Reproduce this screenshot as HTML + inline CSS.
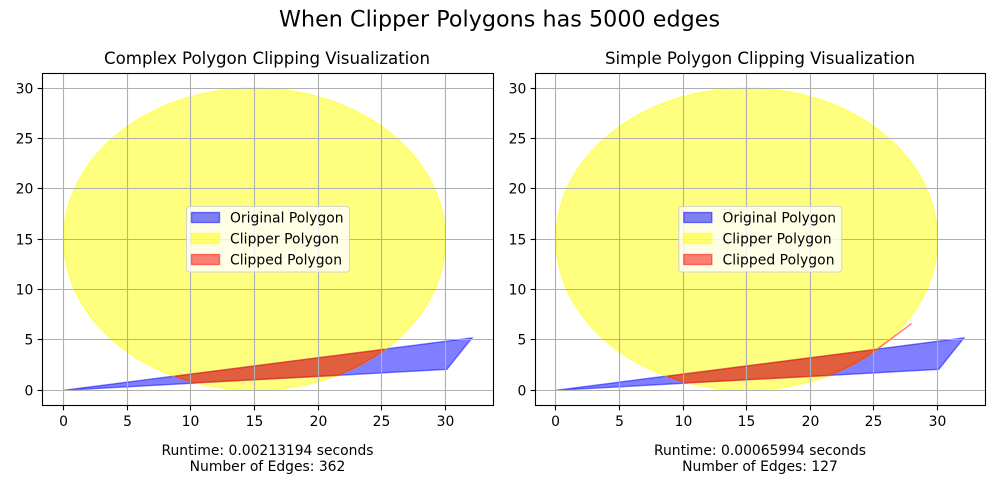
<!DOCTYPE html>
<html>
<head>
<meta charset="utf-8">
<title>When Clipper Polygons has 5000 edges</title>
<style>
html,body{margin:0;padding:0;background:#fff;}
svg{display:block;}
text{font-family:"DejaVu Sans","Liberation Sans",sans-serif;fill:#000;}
</style>
</head>
<body>
<svg id="figure" width="1000" height="500" viewBox="0 0 1000 500" xmlns="http://www.w3.org/2000/svg">
<text x="499.5" y="26.5" font-size="22.2" text-anchor="middle" textLength="441">When Clipper Polygons has 5000 edges</text>

<g>
<g id="left-marks"></g>
<g id="left-axes"></g>
<text x="267" y="64" font-size="16.67" text-anchor="middle" textLength="326">Complex Polygon Clipping Visualization</text>
<g transform="translate(186.5,206.5)">
<rect x="0" y="0" width="163" height="65.5" rx="3" fill="#fff" fill-opacity="0.8" stroke="#ccc" stroke-opacity="0.8" stroke-width="1.1"/>
<rect x="5" y="6" width="28" height="10" fill="#00f" fill-opacity="0.5" stroke="#00f" stroke-opacity="0.5" stroke-width="1.39"/>
<text x="43.5" y="16" font-size="13.89" textLength="113.5">Original Polygon</text>
<rect x="5" y="27" width="28" height="10" fill="#ff0" fill-opacity="0.5" stroke="#ff0" stroke-opacity="0.5" stroke-width="1.39"/>
<text x="43.5" y="37" font-size="13.89" textLength="109">Clipper Polygon</text>
<rect x="5" y="48" width="28" height="10" fill="#f00" fill-opacity="0.5" stroke="#f00" stroke-opacity="0.5" stroke-width="1.39"/>
<text x="43.5" y="58" font-size="13.89" textLength="112">Clipped Polygon</text>
</g>
<text x="267.5" y="455" font-size="13.89" text-anchor="middle">Runtime: 0.00213194 seconds</text>
<text x="267.5" y="471" font-size="13.89" text-anchor="middle">Number of Edges: 362</text>
</g>

<g>
<g id="right-marks"></g>
<g id="right-axes"></g>
<text x="760" y="64" font-size="16.67" text-anchor="middle" textLength="310">Simple Polygon Clipping Visualization</text>
<g transform="translate(678.8,206.5)">
<rect x="0" y="0" width="163" height="65.5" rx="3" fill="#fff" fill-opacity="0.8" stroke="#ccc" stroke-opacity="0.8" stroke-width="1.1"/>
<rect x="5" y="6" width="28" height="10" fill="#00f" fill-opacity="0.5" stroke="#00f" stroke-opacity="0.5" stroke-width="1.39"/>
<text x="43.7" y="16" font-size="13.89" textLength="113.5">Original Polygon</text>
<rect x="5" y="27" width="28" height="10" fill="#ff0" fill-opacity="0.5" stroke="#ff0" stroke-opacity="0.5" stroke-width="1.39"/>
<text x="43.7" y="37" font-size="13.89" textLength="109">Clipper Polygon</text>
<rect x="5" y="48" width="28" height="10" fill="#f00" fill-opacity="0.5" stroke="#f00" stroke-opacity="0.5" stroke-width="1.39"/>
<text x="43.7" y="58" font-size="13.89" textLength="112">Clipped Polygon</text>
</g>
<text x="760" y="455" font-size="13.89" text-anchor="middle">Runtime: 0.00065994 seconds</text>
<text x="760" y="471" font-size="13.89" text-anchor="middle">Number of Edges: 127</text>
</g>
</svg>

<script>
const xTicks = [0, 5, 10, 15, 20, 25, 30];
const yTicks = [0, 5, 10, 15, 20, 25, 30];
const xLimits = [-1.657, 33.75];
const yLimits = [-1.5, 31.5];

const originalX = [0, 30.1, 32.08];
const originalY = [0, 2.08, 5.2];

const clipperCenterX = [15];
const clipperCenterY = [15];
const clipperRadius = [15];

const complexClippedX = [8.7, 25.25, 24.5, 23.5, 22.5, 21.5, 10.3, 9.5];
const complexClippedY = [1.39, 4.07, 3.39, 2.64, 2.01, 1.48, 0.74, 1.05];

const simpleClippedX = [8.7, 25.25, 27.96, 25.1, 24.5, 23.5, 22.5, 21.5, 10.3, 9.5];
const simpleClippedY = [1.39, 4.07, 6.62, 3.95, 3.39, 2.64, 2.01, 1.48, 0.74, 1.05];

const NS = 'http://www.w3.org/2000/svg';

function make(tag, attrs, parent) {
  const el = document.createElementNS(NS, tag);
  for (const k in attrs) el.setAttribute(k, attrs[k]);
  parent.appendChild(el);
  return el;
}

function xScale(v, box) {
  return box.left + (v - xLimits[0]) / (xLimits[1] - xLimits[0]) * (box.right - box.left);
}

function yScale(v, box) {
  return box.bottom - (v - yLimits[0]) / (yLimits[1] - yLimits[0]) * (box.bottom - box.top);
}

function pointList(xs, ys, box) {
  return xs.map(function (x, i) {
    return xScale(x, box).toFixed(2) + ',' + yScale(ys[i], box).toFixed(2);
  }).join(' ');
}

function snap(v) {
  return Math.floor(v) + 0.5;
}

function drawPanel(marks, axes, box, clippedX, clippedY) {
  const blue = make('polygon', {points: pointList(originalX, originalY, box), fill: '#00f', 'fill-opacity': 0.5, stroke: '#00f', 'stroke-opacity': 0.5, 'stroke-width': 1.39, 'stroke-linejoin': 'miter'}, marks);
  
  

  const cx = xScale(clipperCenterX[0], box);
  const cy = yScale(clipperCenterY[0], box);
  const rx = xScale(clipperCenterX[0] + clipperRadius[0], box) - cx;
  const ry = cy - yScale(clipperCenterY[0] + clipperRadius[0], box);
  const yellow = make('ellipse', {cx: cx, cy: cy, rx: rx, ry: ry, fill: '#ff0', 'fill-opacity': 0.5, stroke: '#ff0', 'stroke-opacity': 0.5, 'stroke-width': 1.39}, marks);
  
  

  const red = make('polygon', {points: pointList(clippedX, clippedY, box), fill: '#f00', 'fill-opacity': 0.5, stroke: '#f00', 'stroke-opacity': 0.5, 'stroke-width': 1.39}, marks);
  
  

  xTicks.forEach(function (t) {
    const px = snap(xScale(t, box));
    const grid = make('line', {x1: px, x2: px, y1: box.frameTop, y2: box.frameBottom, stroke: '#b0b0b0', 'stroke-width': 1.11}, axes);
    
    
    const tick = make('line', {x1: px, x2: px, y1: box.frameBottom, y2: box.frameBottom + 4.86, stroke: '#000', 'stroke-width': 1.11}, axes);
    
    
    const label = make('text', {x: px, y: box.frameBottom + 20.5, 'font-size': 13.89, 'text-anchor': 'middle'}, axes);
    
    
    label.textContent = String(t);
  });

  yTicks.forEach(function (t) {
    const py = snap(yScale(t, box));
    const grid = make('line', {x1: box.frameLeft, x2: box.frameRight, y1: py, y2: py, stroke: '#b0b0b0', 'stroke-width': 1.11}, axes);
    
    
    const tick = make('line', {x1: box.frameLeft - 4.86, x2: box.frameLeft, y1: py, y2: py, stroke: '#000', 'stroke-width': 1.11}, axes);
    
    
    const label = make('text', {x: box.frameLeft - 9.2, y: py + 5, 'font-size': 13.89, 'text-anchor': 'end'}, axes);
    
    
    label.textContent = String(t);
  });

  const frame = make('rect', {x: box.frameLeft, y: box.frameTop, width: box.frameRight - box.frameLeft, height: box.frameBottom - box.frameTop, fill: 'none', stroke: '#000', 'stroke-width': 1.11}, axes);
  
  
}

drawPanel(document.getElementById('left-marks'), document.getElementById('left-axes'),
  {left: 42.5, right: 493.3, top: 73, bottom: 405.4, frameLeft: 42.5, frameRight: 493.5, frameTop: 73.5, frameBottom: 405.5}, complexClippedX, complexClippedY);
drawPanel(document.getElementById('right-marks'), document.getElementById('right-axes'),
  {left: 534.8, right: 985.2, top: 73, bottom: 405.4, frameLeft: 535.5, frameRight: 985.5, frameTop: 73.5, frameBottom: 405.5}, simpleClippedX, simpleClippedY);
</script>
</body>
</html>
